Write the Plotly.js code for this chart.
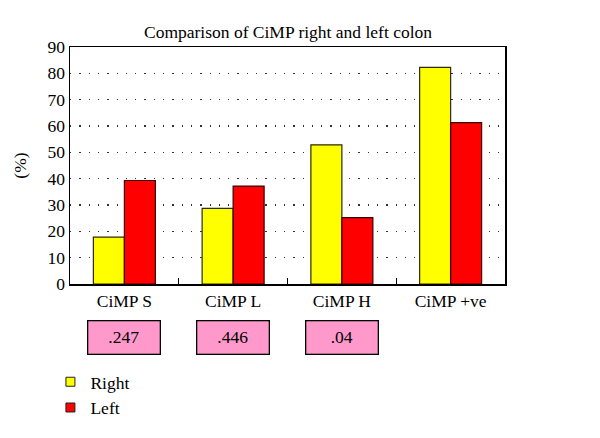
<!DOCTYPE html>
<html>
<head>
<meta charset="utf-8">
<script src="https://cdn.plot.ly/plotly-3.0.1.min.js"></script>
<style>html,body{margin:0;padding:0;background:#fff;}#chart{width:600px;height:438px;}</style>
</head>
<body>
<div id="chart"></div>
<script>
const categories = ["CiMP S", "CiMP L", "CiMP H", "CiMP +ve"];
const rightValues = [17.8, 28.7, 52.8, 82.3];
const leftValues = [39.3, 37.2, 25.2, 61.3];
const pValueCategories = ["CiMP S", "CiMP L", "CiMP H"];
const pValues = [".247", ".446", ".04"];
const yTicks = [0, 10, 20, 30, 40, 50, 60, 70, 80, 90];
const seriesNames = ["Right", "Left"];
const seriesColors = ["#ffff00", "#ff0000"];
const seriesEdges = ["#2b2b00", "#3a0000"];

const FONT = "Liberation Serif";

const traces = [
  {type: "bar", name: seriesNames[0], x: categories, y: rightValues, showlegend: false,
   marker: {color: seriesColors[0], line: {color: seriesEdges[0], width: 1.2}}},
  {type: "bar", name: seriesNames[1], x: categories, y: leftValues, showlegend: false,
   marker: {color: seriesColors[1], line: {color: seriesEdges[1], width: 1.2}}}
];
// legend entries with small square keys
seriesNames.forEach((n, i) => traces.push({
  type: "scatter", mode: "markers", name: n, x: [null], y: [null],
  marker: {symbol: "square", size: 9, color: seriesColors[i], line: {color: "#222", width: 1}}
}));

const annotations = pValueCategories.map((c, i) => ({
  x: c, xref: "x", y: -0.224, yref: "paper", yanchor: "middle",
  text: pValues[i], showarrow: false,
  bgcolor: "#ff99cc", bordercolor: "#000", borderwidth: 1.3, borderpad: 0,
  width: 71, height: 32, font: {family: FONT, size: 17.5, color: "#000"}
}));

const layout = {
  width: 600, height: 438,
  margin: {l: 70, r: 95, t: 47, b: 154},
  paper_bgcolor: "#fff", plot_bgcolor: "#fff",
  font: {family: FONT, size: 17.5, color: "#000"},
  title: {text: "Comparison of CiMP right and left colon", x: 0.48, xanchor: "center", xref: "container",
          y: 0.927, yref: "container", yanchor: "middle",
          font: {family: FONT, size: 17.5, color: "#000"}},
  barmode: "group", bargap: 0.43, bargroupgap: 0,
  xaxis: {type: "category", showline: true, mirror: true, linecolor: "#000", linewidth: 1.5,
          ticks: "inside", tickson: "boundaries", ticklen: 6, tickcolor: "#000", tickwidth: 1.3,
          showgrid: false, zeroline: false, tickfont: {family: FONT, size: 17.5, color: "#000"}},
  yaxis: {range: [0, 90], tickvals: yTicks, ticktext: yTicks.map(String),
          showline: true, mirror: true, linecolor: "#000", linewidth: 1.5, ticks: "",
          showgrid: true, gridcolor: "#333", gridwidth: 1.3, griddash: "1.3px,8px",
          zeroline: false, tickfont: {family: FONT, size: 17.5, color: "#000"},
          title: {text: "(%)", standoff: 16, font: {family: FONT, size: 17.5, color: "#000"}}},
  legend: {x: -0.045, xanchor: "left", y: -0.337, yanchor: "top", orientation: "v",
           font: {family: FONT, size: 17.5, color: "#000"}, traceorder: "normal",
           itemwidth: 30, tracegroupgap: 0, bgcolor: "rgba(0,0,0,0)"},
  annotations: annotations,
  showlegend: true
};

Plotly.newPlot("chart", traces, layout, {displayModeBar: false, staticPlot: true});
</script>
</body>
</html>
